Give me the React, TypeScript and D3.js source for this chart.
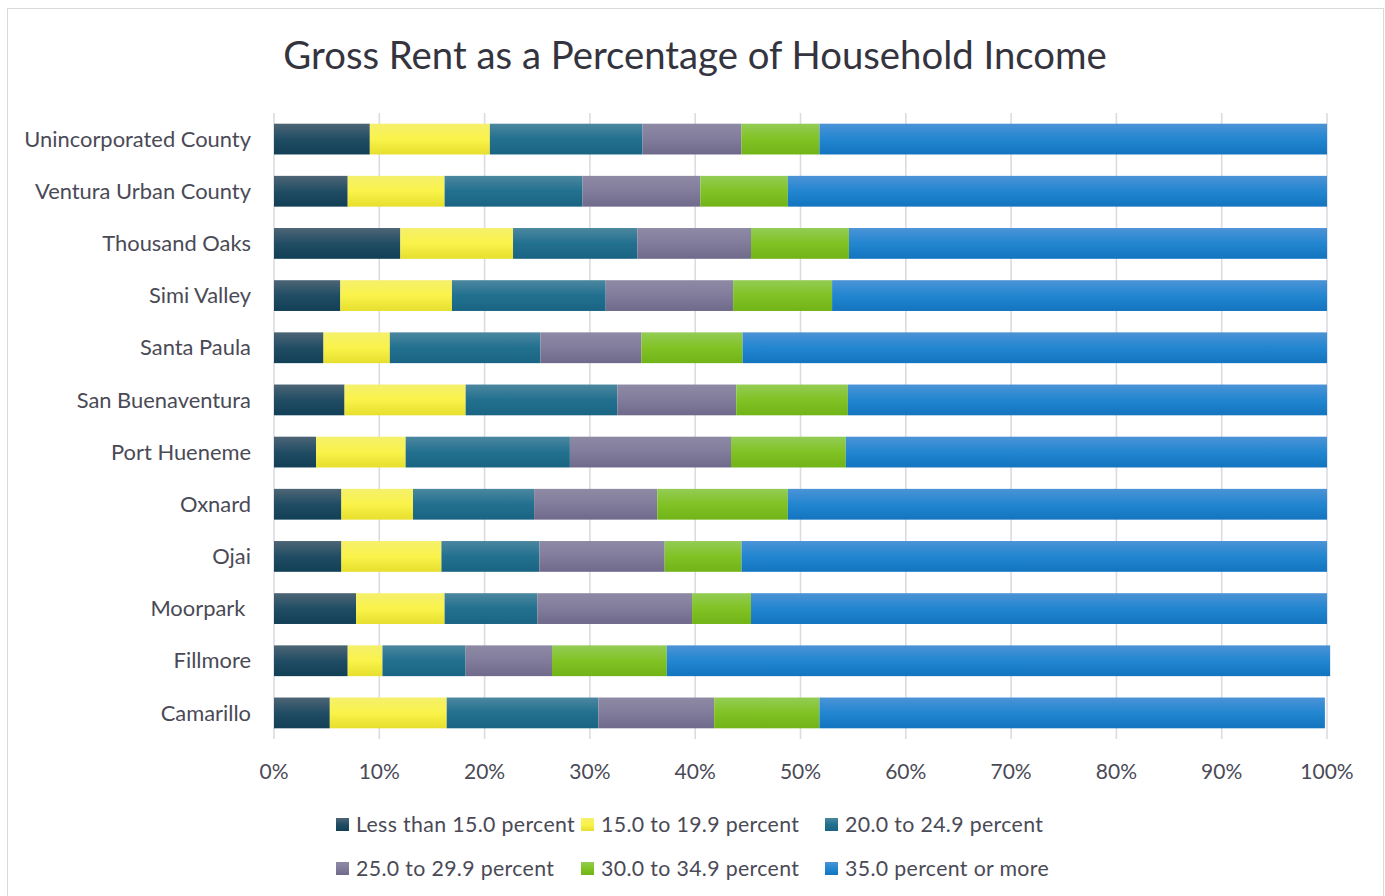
import React, { useEffect } from 'react';
import * as d3 from 'd3';

// Stacked 100% bar chart: gross rent as share of household income
const categories = [
  'Unincorporated County',
  'Ventura Urban County',
  'Thousand Oaks',
  'Simi Valley',
  'Santa Paula',
  'San Buenaventura',
  'Port Hueneme',
  'Oxnard',
  'Ojai',
  'Moorpark ',
  'Fillmore',
  'Camarillo',
];

const seriesNames = [
  'Less than 15.0 percent',
  '15.0 to 19.9 percent',
  '20.0 to 24.9 percent',
  '25.0 to 29.9 percent',
  '30.0 to 34.9 percent',
  '35.0 percent or more',
];

const lessThan15 = [9.1, 7.0, 12.0, 6.3, 4.7, 6.7, 4.0, 6.4, 6.4, 7.8, 7.0, 5.3];
const from15to19 = [11.4, 9.2, 10.7, 10.6, 6.3, 11.5, 8.5, 6.8, 9.5, 8.4, 3.3, 11.1];
const from20to24 = [14.5, 13.1, 11.8, 14.6, 14.3, 14.4, 15.6, 11.5, 9.3, 8.8, 7.9, 14.4];
const from25to29 = [9.4, 11.2, 10.8, 12.1, 9.6, 11.3, 15.3, 11.7, 11.9, 14.7, 8.2, 11.0];
const from30to34 = [7.4, 8.3, 9.3, 9.4, 9.6, 10.6, 10.9, 12.4, 7.3, 5.6, 10.9, 10.0];
const over35 = [48.2, 51.2, 45.4, 47.0, 55.5, 45.5, 45.7, 51.2, 55.6, 54.7, 63.0, 48.0];

const xTicks = [0, 10, 20, 30, 40, 50, 60, 70, 80, 90, 100];

// gradient stops per series: top, middle, bottom
const gradients = [
  ['#4d6575', '#214d64', '#113f56'],
  ['#f5f06c', '#faf34a', '#e6df2e'],
  ['#4c879f', '#22708f', '#1a6483'],
  ['#8e8aa5', '#817c9b', '#6f6a8b'],
  ['#93cc55', '#81c224', '#71b418'],
  ['#4c93d6', '#2286d0', '#1374bf'],
];

const FONT = 'Lato, "Open Sans", sans-serif';

export default function App() {
  useEffect(() => {
    document.body.style.margin = '0';
  }, []);

  const width = 1385;
  const height = 896;
  const plot = { left: 274, right: 1327, top: 113, bottom: 739 };

  const seriesValues = [lessThan15, from15to19, from20to24, from25to29, from30to34, over35];
  const table = categories.map((c, i) => {
    const row: any = { category: c };
    seriesNames.forEach((s, j) => (row[s] = seriesValues[j][i]));
    return row;
  });
  const stacked = d3.stack().keys(seriesNames)(table);

  const x = d3.scaleLinear().domain([0, 100]).range([plot.left, plot.right]);
  const y = d3
    .scaleBand()
    .domain(categories)
    .range([plot.top, plot.bottom])
    .paddingInner(0.41)
    .paddingOuter(0.205);

  const legendCols = [336, 581, 825];
  const legendRows = [824.5, 868.5];

  return (
    <svg width={width} height={height} style={{ display: 'block', background: '#fff' }}>
      <defs>
        {gradients.map((g, i) => (
          <linearGradient key={i} id={'grad' + i} x1="0" y1="0" x2="0" y2="1">
            <stop offset="0" stopColor={g[0]} />
            <stop offset="0.5" stopColor={g[1]} />
            <stop offset="1" stopColor={g[2]} />
          </linearGradient>
        ))}
      </defs>

      <rect x={7.5} y={8.5} width={1376} height={920} fill="#fff" stroke="#d9d9d9" strokeWidth={1} />

      <text
        x={695}
        y={69}
        textAnchor="middle"
        fontFamily={FONT}
        fontSize={38.3}
        fill="#34343f"
      >
        Gross Rent as a Percentage of Household Income
      </text>

      {/* gridlines */}
      {xTicks.map((t) => (
        <line
          key={t}
          x1={x(t)}
          x2={x(t)}
          y1={plot.top}
          y2={plot.bottom}
          stroke="#dcdbe3"
          strokeWidth={1.6}
        />
      ))}

      {/* bars */}
      {stacked.map((layer, i) => (
        <g key={layer.key} fill={'url(#grad' + i + ')'}>
          {layer.map((d, j) => (
            <rect
              key={j}
              x={x(d[0])}
              y={y(categories[j])}
              width={x(d[1]) - x(d[0])}
              height={y.bandwidth()}
            />
          ))}
        </g>
      ))}

      {/* category labels */}
      {categories.map((c) => (
        <text
          key={c}
          x={251}
          y={(y(c) as number) + y.bandwidth() / 2}
          dy="0.35em"
          textAnchor="end"
          fontFamily={FONT}
          fontSize={21.9}
          fill="#4a4a56"
          style={{ whiteSpace: 'pre' }}
        >
          {c}
        </text>
      ))}

      {/* x tick labels */}
      {xTicks.map((t) => (
        <text
          key={t}
          x={x(t)}
          y={772}
          dy="0.35em"
          textAnchor="middle"
          fontFamily={FONT}
          fontSize={21}
          fill="#4a4a56"
        >
          {t + '%'}
        </text>
      ))}

      {/* legend */}
      {seriesNames.map((s, i) => {
        const lx = legendCols[i % 3];
        const ly = legendRows[Math.floor(i / 3)];
        return (
          <g key={s}>
            <rect x={lx} y={ly - 6.5} width={13} height={13} fill={'url(#grad' + i + ')'} />
            <text
              x={lx + 20}
              y={ly}
              dy="0.35em"
              fontFamily={FONT}
              fontSize={21.3}
              letterSpacing={0.35}
              fill="#4a4a56"
            >
              {s}
            </text>
          </g>
        );
      })}
    </svg>
  );
}
